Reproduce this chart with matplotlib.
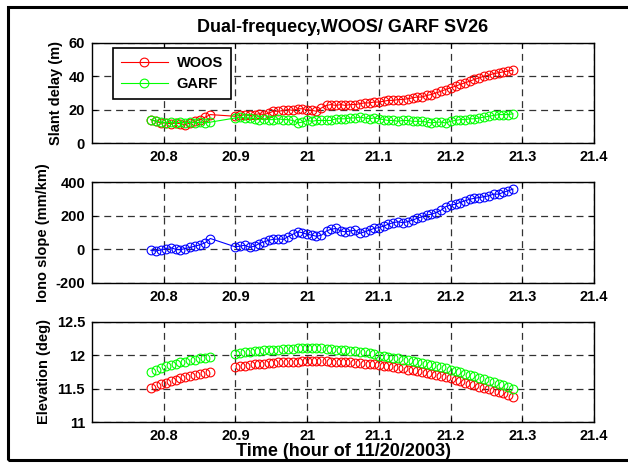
import matplotlib
matplotlib.use("Agg")
import matplotlib.pyplot as plt
from matplotlib.patches import Rectangle

plt.rcParams['font.family'] = ['Liberation Sans', 'DejaVu Sans']
plt.rcParams['font.weight'] = 'bold'
plt.rcParams['lines.scale_dashes'] = False

# time stamps (hour of 11/20/2003), two passes with a data gap
t1 = [20.782, 20.789, 20.796, 20.803, 20.810, 20.817, 20.823, 20.830, 20.837,
      20.844, 20.851, 20.858, 20.865]
t2 = [20.900, 20.907, 20.913, 20.920, 20.927, 20.933, 20.940, 20.947, 20.953, 20.960,
      20.967, 20.973, 20.980, 20.987, 20.993, 21.000, 21.007, 21.013, 21.020, 21.027,
      21.033, 21.040, 21.047, 21.053, 21.060, 21.067, 21.073, 21.080, 21.087, 21.093,
      21.100, 21.107, 21.113, 21.120, 21.127, 21.133, 21.140, 21.147, 21.153, 21.160,
      21.167, 21.173, 21.180, 21.187, 21.193, 21.200, 21.207, 21.213, 21.220, 21.227,
      21.233, 21.240, 21.247, 21.253, 21.260, 21.267, 21.273, 21.280, 21.287]

# slant delay (m)
woos_delay1 = [14, 13, 12, 12, 11.5, 12, 11.5, 11, 12, 13, 14, 15.5, 17]
woos_delay2 = [16, 16.5, 17, 16.5, 17, 17.5, 17, 18, 19, 19, 19.5, 20, 19.5, 20.5, 20.5,
               20, 19.5, 19, 21, 22.5, 23, 22.5, 23, 22.5, 23, 23, 23.5, 24, 24, 24.5,
               24.5, 25, 25.5, 25.5, 26, 26, 26.5, 27, 27.5, 27.5, 28.5, 29, 30, 31, 32,
               33, 34, 35, 36, 37, 38, 39, 40, 40.5, 41.5, 42, 42.5, 43, 43.5]
garf_delay1 = [14, 13, 12.5, 12, 12.5, 12, 12.5, 12, 12.5, 12, 12.5, 12, 12.5]
garf_delay2 = [15, 15.5, 15, 15, 14.5, 14, 14.5, 14, 14, 14.5, 14, 14, 13.5, 12, 12.5,
               13.5, 13, 13.5, 13.5, 13.5, 13.5, 14.5, 14.5, 14.5, 15, 15, 15.5, 15, 14.5, 15,
               14.5, 14, 13.5, 13.5, 13, 13.5, 13.5, 13, 13, 13, 12.5, 12, 12.5, 12.5, 12,
               13, 13.5, 14, 14, 14.5, 14.5, 15, 15.5, 16, 16.5, 17, 17, 17, 17.5]

# iono slope (mm/km)
slope1 = [-5, -10, -3, 5, 10, 0, -2, 5, 12, 20, 28, 40, 65]
slope2 = [15, 20, 25, 12, 20, 35, 45, 55, 60, 62, 60, 75, 90, 105, 100,
          90, 85, 78, 85, 110, 120, 125, 110, 105, 110, 115, 95, 105, 115, 125,
          130, 140, 150, 160, 165, 160, 165, 175, 185, 195, 205, 210, 220, 235, 255,
          265, 270, 280, 290, 300, 305, 310, 315, 320, 330, 330, 340, 350, 360]

# elevation (deg)
woos_elev1 = [11.51, 11.54, 11.57, 11.59, 11.61, 11.63, 11.65, 11.67, 11.69, 11.70,
              11.72, 11.73, 11.75]
woos_elev2 = [11.82, 11.83, 11.84, 11.85, 11.86, 11.86, 11.87, 11.88, 11.88, 11.89,
              11.89, 11.90, 11.90, 11.90, 11.91, 11.91,
              11.91, 11.91, 11.91, 11.91, 11.90, 11.90, 11.90, 11.89, 11.89, 11.88,
              11.88, 11.87, 11.87, 11.86,
              11.85, 11.84, 11.83, 11.82, 11.81, 11.80, 11.78, 11.77, 11.76, 11.74, 11.73,
              11.71, 11.70, 11.68, 11.67, 11.65, 11.63, 11.61, 11.59, 11.57, 11.55,
              11.53, 11.51, 11.49, 11.47, 11.45, 11.43, 11.40, 11.38]
garf_elev1 = [11.75, 11.78, 11.80, 11.83, 11.85, 11.87, 11.89, 11.90, 11.92, 11.93,
              11.95, 11.96, 11.97]
garf_elev2 = [12.02, 12.03, 12.04, 12.05, 12.06, 12.06, 12.07, 12.07, 12.08, 12.08,
              12.09, 12.09, 12.09, 12.10, 12.10, 12.10,
              12.10, 12.10, 12.10, 12.09, 12.09, 12.08, 12.08, 12.07, 12.06, 12.06,
              12.05, 12.04, 12.03, 12.02,
              11.99, 11.98, 11.97, 11.96, 11.95, 11.93, 11.92, 11.91, 11.89, 11.88, 11.87,
              11.85, 11.84, 11.82, 11.80, 11.78, 11.76, 11.74, 11.72, 11.70, 11.68,
              11.66, 11.64, 11.62, 11.60, 11.57, 11.55, 11.52, 11.49]

xticks = [20.8, 20.9, 21.0, 21.1, 21.2, 21.3, 21.4]
xticklabels = ['20.8', '20.9', '21', '21.1', '21.2', '21.3', '21.4']

t = t1 + t2
mk = dict(marker='o', markersize=6.3, markerfacecolor='none', markeredgewidth=0.8)

fig = plt.figure(figsize=(6.28, 4.66), dpi=100)
left, width, height = 0.1465, 0.7994, 0.2155
ax1 = fig.add_axes([left, 0.693, width, height])
ax2 = fig.add_axes([left, 0.393, width, height])
ax3 = fig.add_axes([left, 0.0944, width, height])

def style(ax, yticks, ylabels):
    ax.set_xlim(20.7, 21.4)
    ax.set_xticks(xticks)
    ax.set_xticklabels(xticklabels)
    ax.set_yticks(yticks)
    ax.set_yticklabels(ylabels)
    ax.set_ylim(yticks[0], yticks[-1])
    ax.grid(True, color='0.2', linestyle=(0, (5, 3.5)), linewidth=0.9)
    ax.tick_params(direction='in', length=3.5, width=0.8, top=True, right=True,
                   labelsize=10.5, pad=5)
    for s in ax.spines.values():
        s.set_linewidth(1.0)
        s.set_color('black')

ax1.plot(t, woos_delay1 + woos_delay2, color='red', linewidth=0.8, label='WOOS', **mk)
ax1.plot(t, garf_delay1 + garf_delay2, color='#00ff00', linewidth=0.8, label='GARF', **mk)
style(ax1, [0, 20, 40, 60], ['0', '20', '40', '60'])
ax1.set_ylabel('Slant delay (m)', fontsize=10.5, fontweight='bold')
ax1.set_title('Dual-frequecy,WOOS/ GARF SV26', fontsize=13, fontweight='bold', pad=8)
leg = ax1.legend(loc='upper left', bbox_to_anchor=(0.042, 0.95), borderaxespad=0,
                 fancybox=False, edgecolor='black', framealpha=1, fontsize=10.5,
                 handlelength=3.2, handletextpad=0.6, labelspacing=0.5,
                 borderpad=0.55)
leg.get_frame().set_linewidth(1.2)

ax2.plot(t, slope1 + slope2, color='blue', linewidth=0.8, **mk)
style(ax2, [-200, 0, 200, 400], ['-200', '0', '200', '400'])
ax2.set_ylabel('Iono slope (mm/km)', fontsize=10.5, fontweight='bold')

ax3.plot(t, woos_elev1 + woos_elev2, color='red', linestyle='none', **mk)
ax3.plot(t, garf_elev1 + garf_elev2, color='#00ff00', linestyle='none', **mk)
style(ax3, [11, 11.5, 12, 12.5], ['11', '11.5', '12', '12.5'])
ax3.set_ylabel('Elevation (deg)', fontsize=10.5, fontweight='bold')
ax3.set_xlabel('Time (hour of 11/20/2003)', fontsize=13, fontweight='bold', labelpad=0)

# outer frame
fig.patches.append(Rectangle((8 / 628, 6 / 466), 1.0, 1 - 13 / 466, transform=fig.transFigure,
                             fill=False, edgecolor='black', linewidth=2.2, clip_on=False))

fig.savefig('out.png', dpi=100)
